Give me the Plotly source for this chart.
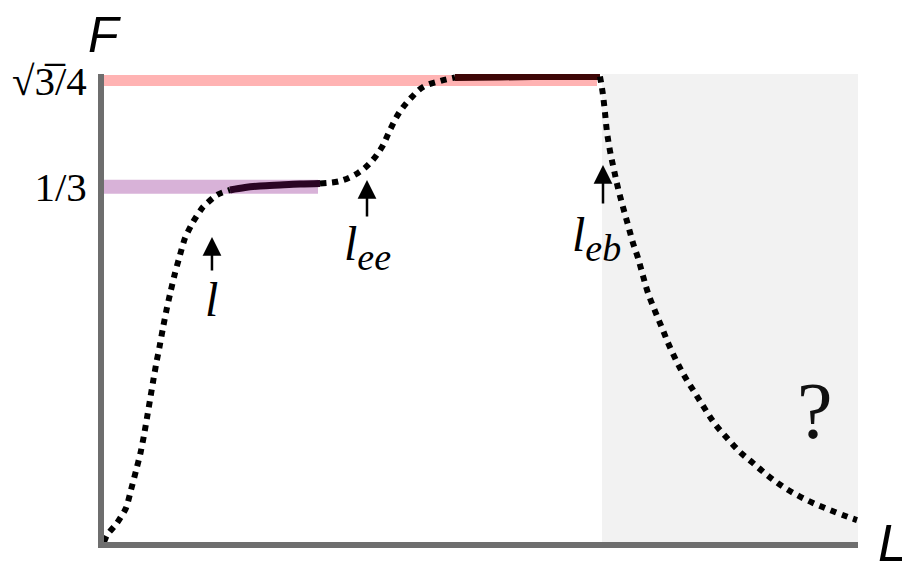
import plotly.graph_objects as go
import math

# ---- data (L in arbitrary units 0..100, F values) ----
F_LOW = 1/3
F_HIGH = math.sqrt(3)/4
L_MAX = 100
F_MAX = 0.4391

# rising part from origin (dotted)
rise1_L = [0, 0.40, 1.72, 2.92, 3.58, 4.24, 4.84, 5.31, 5.70, 6.10, 6.50, 6.94, 7.36, 7.82,
           8.29, 8.82, 9.42, 10.08, 10.74, 11.80, 13.13, 15.00, 16.71]
rise1_F = [0, 0.0066, 0.0178, 0.0319, 0.0488, 0.0667, 0.0835, 0.1004, 0.1163, 0.1332, 0.1501,
           0.1679, 0.1830, 0.2008, 0.2177, 0.2346, 0.2524, 0.2693, 0.2852, 0.3002, 0.3143,
           0.3257, 0.3303]
# first plateau (solid)
plat1_L = [16.71, 18.70, 20.69, 23.34, 25.99, 28.65]
plat1_F = [0.3303, 0.3326, 0.3340, 0.3350, 0.3359, 0.3364]
# second rise (dotted)
rise2_L = [28.65, 31.30, 33.69, 35.41, 36.87, 37.93, 39.12, 40.58, 42.31, 44.56, 46.55]
rise2_F = [0.3364, 0.3387, 0.3462, 0.3565, 0.3706, 0.3866, 0.4025, 0.4156, 0.4269, 0.4325, 0.4358]
# second plateau (solid)
plat2_L = [46.55, 52.52, 59.15, 65.78]
plat2_F = [0.4358, 0.4363, 0.4368, 0.4368]
# decay (dotted)
fall_L = [65.78, 65.98, 66.18, 66.45, 66.71, 67.11, 67.64, 68.17, 68.83, 69.50, 70.16, 70.82,
          71.49, 72.15, 73.08, 74.01, 74.93, 75.99, 77.06, 78.38, 79.71, 81.03, 82.63, 84.35,
          86.07, 87.93, 89.92, 91.91, 94.03, 96.29, 98.67, 99.87]
fall_F = [0.4368, 0.4288, 0.4194, 0.4025, 0.3847, 0.3669, 0.3490, 0.3321, 0.3143, 0.2974,
          0.2805, 0.2665, 0.2496, 0.2336, 0.2167, 0.2008, 0.1848, 0.1689, 0.1548, 0.1398,
          0.1248, 0.1107, 0.0976, 0.0844, 0.0741, 0.0629, 0.0525, 0.0441, 0.0366, 0.0300,
          0.0235, 0.0206]

band_low_end = 28.38
band_high_end = 65.38
unknown_start = 66.05

marks = {"l": 14.32, "l_ee": 34.88, "l_eb": 66.18}

fig = go.Figure()

# shaded unknown region
fig.add_shape(type="rect", x0=unknown_start, x1=L_MAX, y0=0, y1=F_MAX,
              fillcolor="#f2f2f2", line_width=0, layer="below")

# bands
fig.add_trace(go.Scatter(x=[0, band_high_end], y=[F_HIGH, F_HIGH], mode="lines",
                         line=dict(color="#ffb3b3", width=11), hoverinfo="skip"))
fig.add_trace(go.Scatter(x=[0, band_low_end], y=[F_LOW, F_LOW], mode="lines",
                         line=dict(color="#d8b2d8", width=14), hoverinfo="skip"))

# curve
fig.add_trace(go.Scatter(x=rise1_L, y=rise1_F, mode="lines",
                         line=dict(color="black", width=6, dash="dot", shape="spline",
                                   smoothing=0.6)))
fig.add_trace(go.Scatter(x=plat1_L, y=plat1_F, mode="lines",
                         line=dict(color="#2a0424", width=7, shape="spline")))
fig.add_trace(go.Scatter(x=rise2_L, y=rise2_F, mode="lines",
                         line=dict(color="black", width=6, dash="dot", shape="spline")))
fig.add_trace(go.Scatter(x=plat2_L, y=plat2_F, mode="lines",
                         line=dict(color="#3e0606", width=7, shape="spline")))
fig.add_trace(go.Scatter(x=fall_L, y=fall_F, mode="lines",
                         line=dict(color="black", width=6, dash="dot", shape="spline")))

serif = "Liberation Serif"
# arrows
arrow_tip = {"l": 0.2862, "l_ee": 0.3397, "l_eb": 0.3537}
arrow_tail = {"l": 0.2533, "l_ee": 0.3040, "l_eb": 0.3162}
label_x = {"l": 14.32, "l_ee": 34.88, "l_eb": 65.3}
label_y = {"l": 0.2271, "l_ee": 0.276, "l_eb": 0.2850}
sub = "<sub><span style='font-size:38px'><i>%s</i></span></sub>"
label_text = {"l": "<i>l</i>", "l_ee": "<i>l</i>" + sub % "ee",
              "l_eb": "<i>l</i>" + sub % "eb"}
for k, xv in marks.items():
    fig.add_annotation(x=xv, y=arrow_tip[k], ax=xv, ay=arrow_tail[k], axref="x", ayref="y",
                       xref="x", yref="y", text="", showarrow=True, arrowhead=2,
                       arrowsize=1.5, arrowwidth=2.5, arrowcolor="black")
    fig.add_annotation(x=label_x[k], y=label_y[k], xref="x", yref="y", text=label_text[k],
                       showarrow=False, xanchor="center", yanchor="middle",
                       font=dict(family=serif, size=48, color="black"))

fig.add_annotation(x=94.3, y=0.1229, xref="x", yref="y", text="?", showarrow=False,
                   xanchor="center", yanchor="middle",
                   font=dict(family=serif, size=80, color="#111111"))

fig.add_annotation(x=0, y=1.083, xref="paper", yref="paper", text="<i>F</i>", showarrow=False,
                   xanchor="center", yanchor="middle",
                   font=dict(family="Liberation Sans", size=50, color="black"))
fig.add_annotation(x=1.046, y=-0.002, xref="paper", yref="paper", text="<i>L</i>", showarrow=False,
                   xanchor="center", yanchor="middle",
                   font=dict(family="Liberation Sans", size=52, color="black"))

# page body has an 8px margin, so the plot area is offset accordingly
fig.update_layout(
    width=910, height=575,
    margin=dict(l=96, r=60, t=66, b=41, autoexpand=False),
    paper_bgcolor="white", plot_bgcolor="white",
    showlegend=False,
    xaxis=dict(range=[0, L_MAX], showgrid=False, zeroline=False, showticklabels=False,
               showline=True, linecolor="#6e6e6e", linewidth=6, ticks="", automargin=False),
    yaxis=dict(range=[0, F_MAX], showgrid=False, zeroline=False,
               showline=True, linecolor="#6e6e6e", linewidth=6, ticks="", automargin=False,
               tickvals=[F_LOW, F_HIGH],
               ticktext=["1/3", "√3\u0305/4"],
               tickfont=dict(family=serif, size=41, color="black"),
               ticklabelstandoff=3),
)

fig.write_html("out.html")
